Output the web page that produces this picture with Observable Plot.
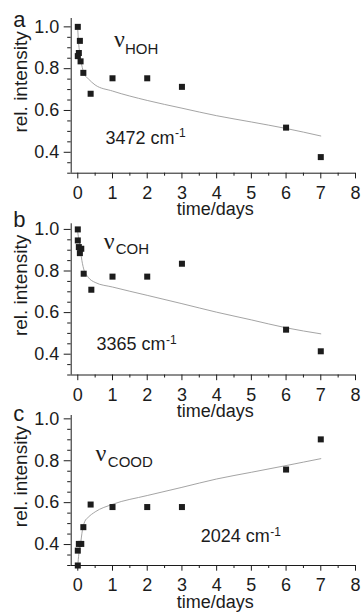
<!DOCTYPE html>
<html><head><meta charset="utf-8">
<script src="https://cdn.jsdelivr.net/npm/d3@7"></script>
<script src="https://cdn.jsdelivr.net/npm/@observablehq/plot@0.6"></script>
<style>
html,body{margin:0;padding:0;background:#fff;}
#chart{position:relative;width:364px;height:612px;overflow:hidden;background:#fff;}
#chart svg{position:absolute;left:0;top:0;}
</style></head><body><div id="chart"></div>
<script>
// ---- text ----
const panelLetters = ["a", "b", "c"];
const subscripts = ["HOH", "COH", "COOD"];
const wavenumbers = ["3472", "3365", "2024"];
const yLabel = "rel. intensity";
const xLabel = "time/days";

// ---- ticks ----
const xTicks = [0, 1, 2, 3, 4, 5, 6, 7, 8];
const xMinorTicks = [0.5, 1.5, 2.5, 3.5, 4.5, 5.5, 6.5, 7.5];
const yTicks = [0.4, 0.6, 0.8, 1.0];
const yMinorTicks = [0.3, 0.35, 0.45, 0.5, 0.55, 0.65, 0.7, 0.75, 0.85, 0.9, 0.95];
const xDomain = [-0.19, 8];

// ---- measured points ----
const timeA = [0, 0.06, 0.03, 0, 0.08, 0.16, 0.37, 1, 2, 3, 6, 7];
const hohA  = [1.0, 0.933, 0.875, 0.86, 0.835, 0.78, 0.68, 0.754, 0.754, 0.713, 0.518, 0.377];
const timeB = [0, 0, 0.03, 0.1, 0.06, 0.17, 0.39, 1, 2, 3, 6, 7];
const cohB  = [1.0, 0.947, 0.915, 0.907, 0.886, 0.787, 0.71, 0.773, 0.773, 0.835, 0.518, 0.414];
const timeC = [0, 0, 0.03, 0.1, 0.16, 0.37, 1, 2, 3, 6, 7];
const coodC = [0.30, 0.371, 0.403, 0.403, 0.483, 0.591, 0.579, 0.579, 0.579, 0.758, 0.902];

// ---- fitted curves ----
const fitTimeA = [0, 0.02, 0.06, 0.13, 0.2, 0.3, 0.5, 1, 2, 3, 4, 5, 6, 7];
const fitA     = [0.985, 0.93, 0.87, 0.805, 0.77, 0.752, 0.722, 0.693, 0.648, 0.611, 0.575, 0.545, 0.514, 0.478];
const fitTimeB = [0, 0.03, 0.06, 0.1, 0.17, 0.3, 0.5, 1, 2, 3, 4, 5, 6, 7];
const fitB     = [0.985, 0.95, 0.925, 0.87, 0.81, 0.77, 0.745, 0.723, 0.683, 0.643, 0.602, 0.565, 0.527, 0.498];
const fitTimeC = [0, 0.03, 0.08, 0.13, 0.2, 0.3, 0.5, 1, 2, 3, 4, 5, 6, 7];
const fitC     = [0.30, 0.355, 0.405, 0.465, 0.51, 0.53, 0.556, 0.592, 0.634, 0.673, 0.713, 0.745, 0.777, 0.81];

const zip = (xs, ys) => xs.map((x, i) => ({t: x, v: ys[i]}));

// ---- layout per panel ----
const layout = [
  {top: 18,    bottom: 172.7, yDomain: [0.3, 1.04],  letterDy: 8.7, labelDy: -14,
   nu: [1.04, 0.903], sub: [1.36, 0.871], wn: [0.80, 0.441]},
  {top: 223.3, bottom: 374.5, yDomain: [0.3, 1.027], letterDy: 3.4, labelDy: -14,
   nu: [0.75, 0.907], sub: [1.09, 0.883], wn: [0.54, 0.418]},
  {top: 415,   bottom: 565,   yDomain: [0.3, 1.016], letterDy: 5,   labelDy: -14,
   nu: [0.51, 0.801], sub: [0.865, 0.769], wn: [3.54, 0.411]}
];
const series = [
  {pts: zip(timeA, hohA), fit: zip(fitTimeA, fitA)},
  {pts: zip(timeB, cohB), fit: zip(fitTimeB, fitB)},
  {pts: zip(timeC, coodC), fit: zip(fitTimeC, fitC)}
];

const INK = "#1c1c1c";
const chart = document.getElementById("chart");

layout.forEach((cfg, i) => {
  const s = series[i];
  const svg = Plot.plot({
    width: 364, height: 612,
    marginLeft: 70.7, marginRight: 9,
    marginTop: cfg.top, marginBottom: 612 - cfg.bottom,
    x: {domain: xDomain},
    y: {domain: cfg.yDomain},
    style: {background: "none", color: INK, fontFamily: "'Liberation Sans', Arial, sans-serif", fontSize: "18px", overflow: "visible"},
    marks: [
      Plot.axisX({ticks: xTicks, tickSize: 5.7, tickPadding: 7.3, tickFormat: d => String(d), label: null, fontSize: 18}),
      Plot.axisX({ticks: xMinorTicks, tickSize: 3, text: null, label: null}),
      Plot.axisY({ticks: yTicks, tickSize: 7, tickPadding: 5, tickFormat: d => d.toFixed(1), label: null, fontSize: 18}),
      Plot.axisY({ticks: yMinorTicks, tickSize: 3.5, text: null, label: null}),
      Plot.ruleY([cfg.yDomain[0]], {stroke: INK, strokeWidth: 1}),
      Plot.ruleX([xDomain[0]], {stroke: INK, strokeWidth: 1}),
      Plot.line(s.fit, {x: "t", y: "v", stroke: "#9a9a9a", strokeWidth: 0.9, curve: "monotone-x"}),
      Plot.dot(s.pts, {x: "t", y: "v", symbol: "square", r: 3.4, fill: INK}),
      Plot.text(["ν"], {x: cfg.nu[0], y: cfg.nu[1], textAnchor: "start", lineAnchor: "bottom",
        fontFamily: "'Liberation Serif', 'Times New Roman', serif", fontSize: 24, fill: INK}),
      Plot.text([subscripts[i]], {x: cfg.sub[0], y: cfg.sub[1], textAnchor: "start", lineAnchor: "bottom", fontSize: 15, fill: INK}),
      Plot.text([wavenumbers[i] + " cm"], {x: cfg.wn[0], y: cfg.wn[1], textAnchor: "start", lineAnchor: "bottom", fontSize: 18, fill: INK}),
      Plot.text(["-1"], {x: cfg.wn[0], y: cfg.wn[1], dx: 69.5, dy: -6.5, textAnchor: "start", lineAnchor: "bottom", fontSize: 12, fill: INK}),
      Plot.text([panelLetters[i]], {frameAnchor: "top-left", dx: -58, dy: cfg.letterDy, textAnchor: "start", lineAnchor: "bottom", fontSize: 22, fill: INK}),
      Plot.text([yLabel], {frameAnchor: "left", rotate: -90, dx: -50.7, dy: cfg.labelDy, textAnchor: "middle", lineAnchor: "middle", fontSize: 19, fill: INK}),
      Plot.text([xLabel], {frameAnchor: "bottom", dx: 2, dy: 42, textAnchor: "middle", lineAnchor: "bottom", fontSize: 18, fill: INK})
    ]
  });
  chart.appendChild(svg);
});
</script></body></html>
